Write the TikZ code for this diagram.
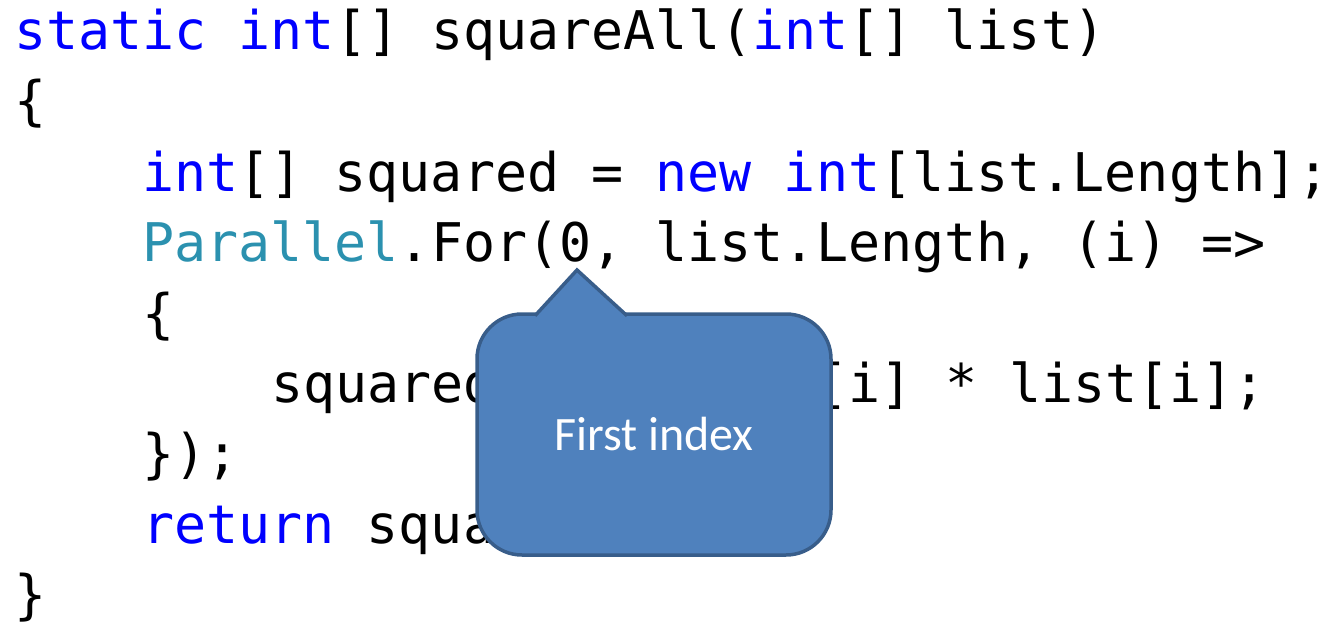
\documentclass[tikz,border=0pt]{standalone}
\usepackage{fontspec}
\newfontfamily\codefont{DejaVu Sans Mono}
\newfontfamily\calloutfont{Carlito}
\definecolor{kw}{RGB}{0,0,255}
\definecolor{typ}{RGB}{43,145,175}
\definecolor{boxfill}{RGB}{79,129,189}
\definecolor{boxline}{RGB}{56,93,138}
\tikzset{
  code/.style={anchor=base west, inner sep=0pt, font=\codefont\fontsize{53.3}{60}\selectfont},
  bubble/.style={draw=boxline, fill=boxfill, line width=3.5pt, rounded corners=45pt,
    minimum width=354pt, minimum height=241pt, inner sep=0pt, text=white,
    font=\calloutfont\fontsize{48}{52}\selectfont},
}
\begin{document}
\begin{tikzpicture}[x=1pt,y=1pt]
\useasboundingbox (0,0) rectangle (1334,-626);
% source listing, one node per line
\node[code] (l1) at (14,-50)  {\textcolor{kw}{static} \textcolor{kw}{int}[] squareAll(\textcolor{kw}{int}[] list)};
\node[code] (l2) at (14,-120) {\{};
\node[code] (l3) at (142,-191) {\textcolor{kw}{int}[] squared = \textcolor{kw}{new} \textcolor{kw}{int}[list.Length];};
\node[code] (l4) at (142,-261) {\textcolor{typ}{Parallel}.For(0, list.Length, (i) =>};
\node[code] (l5) at (142,-332) {\{};
\node[code] (l6) at (271,-402) {squared[i] = list[i] * list[i];};
\node[code] (l7) at (142,-472) {\});};
\node[code] (l8) at (142,-543) {\textcolor{kw}{return} squared;};
\node[code] (l9) at (14,-613) {\}};
% callout bubble pointing at the first argument
\node[bubble] (callout) at (654,-434.5) {First index};
\coordinate (tip) at (577,-270);
\coordinate (bl) at (537,-314);
\coordinate (br) at (625,-314);
\fill[boxfill] (bl) -- (tip) -- (br) -- ([yshift=-4pt]br) -- ([yshift=-4pt]bl) -- cycle;
\draw[boxline, line width=3.5pt, line join=miter] ([shift={(-2pt,-1.75pt)}]bl) -- (tip) -- ([shift={(2pt,-1.75pt)}]br);
\end{tikzpicture}
\end{document}
